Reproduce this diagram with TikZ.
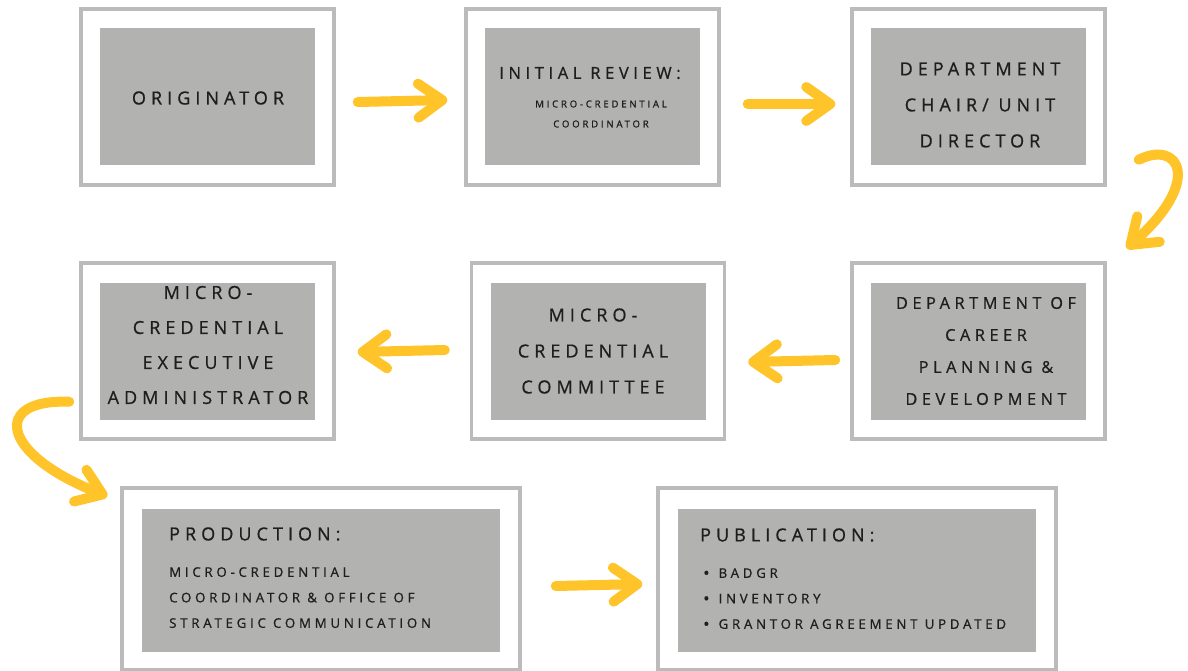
\documentclass[tikz,border=0pt]{standalone}
\usepackage{fontspec}
\usetikzlibrary{arrows.meta,positioning}
\newfontfamily\stepfont[LetterSpace=28, FakeBold=0.8]{Open Sans}
\newcommand\dotitem{{\fontsize{17}{17}\selectfont\raisebox{-1.2pt}{•}}\hspace{9pt}}
\definecolor{edgegray}{HTML}{BBBBBB}
\definecolor{boxgray}{HTML}{B2B3B0}
\definecolor{ink}{HTML}{1E1E1E}
\definecolor{brushyellow}{HTML}{FFC42A}
\tikzset{
  outer/.style={draw=edgegray, line width=3.5pt, fill=white, minimum width=253pt, minimum height=176pt},
  wide/.style={minimum width=398pt, minimum height=182pt},
  inner/.style={fill=boxgray, minimum width=215pt, minimum height=137pt},
  widein/.style={minimum width=358pt, minimum height=143pt},
  txt/.style={text=ink, align=center, inner sep=0pt, font=\stepfont\fontsize{18}{36}\selectfont},
  smalltxt/.style={text=ink, align=left, inner sep=0pt, font=\stepfont\fontsize{13.3}{25.5}\selectfont},
  tinytxt/.style={text=ink, align=center, inner sep=0pt, font=\stepfont\fontsize{9.7}{20}\selectfont},
  brush/.style={draw=brushyellow, line width=10pt, line cap=round, line join=round,
    -{Straight Barb[length=24pt, width=34pt, line width=10pt, round]}}
}
\begin{document}
\begin{tikzpicture}[x=1pt, y=-1pt]
  \useasboundingbox[fill=white] (0,0) rectangle (1188,671);
  \node[outer] (o1) at (207.5,97) {};
  \node[outer] (o2) at (592.5,97) {};
  \node[outer] (o3) at (978.5,97) {};
  \node[outer] (o4) at (207.5,351) {};
  \node[outer] (o5) at (598,351) {};
  \node[outer] (o6) at (978.5,351) {};
  \node[outer, wide] (o7) at (321,579) {};
  \node[outer, wide] (o8) at (857,579) {};
  \foreach \n in {1,...,6} \node[inner] (i\n) at (o\n) {};
  \node[inner, widein] (i7) at (321,580.5) {};
  \node[inner, widein] (i8) at (857,580.5) {};

  \node[txt] (t1) at (208,98) {ORIGINATOR};
  \node[txt, font=\stepfont\fontsize{16.5}{36}\selectfont] (t2) at (590,73) {INITIAL REVIEW:};
  \node[tinytxt] (s2) at (601,114) {MICRO-CREDENTIAL\\COORDINATOR};
  \node[txt] (t3) at (980,105) {DEPARTMENT\\CHAIR/ UNIT\\DIRECTOR};
  \node[txt, font=\stepfont\fontsize{18}{35}\selectfont] (t4) at (208,345) {MICRO-\\CREDENTIAL\\EXECUTIVE\\ADMINISTRATOR};
  \node[txt] (t5) at (593,351) {MICRO-\\CREDENTIAL\\COMMITTEE};
  \node[txt, font=\stepfont\fontsize{16.3}{32}\selectfont] (t6) at (986,351) {DEPARTMENT OF\\CAREER\\PLANNING \&\\DEVELOPMENT};
  \node[txt, anchor=west] (t7) at (169,534) {PRODUCTION:};
  \node[smalltxt, anchor=north west] (s7) at (169,567) {MICRO-CREDENTIAL\\COORDINATOR \& OFFICE OF\\STRATEGIC COMMUNICATION};
  \node[txt, anchor=west] (t8) at (700,535) {PUBLICATION:};
  \node[smalltxt, anchor=north west] (s8) at (703,568) {\dotitem BADGR\\\dotitem INVENTORY\\\dotitem GRANTOR AGREEMENT UPDATED};

  \draw[brush] ([xshift=22pt,yshift=-5pt]o1.east) -- ([xshift=-17pt,yshift=-3pt]o2.west);
  \draw[brush] ([xshift=27pt,yshift=-7pt]o2.east) -- ([xshift=-15pt,yshift=-7pt]o3.west);
  \draw[brush] ([xshift=32pt,yshift=27pt]o3.south east) .. controls +(40,-20) and +(77,-68) .. ([xshift=20pt,yshift=13pt]o6.north east);
  \draw[brush] ([xshift=-15pt,yshift=-9pt]o6.west) -- ([xshift=22pt,yshift=-11pt]o5.east);
  \draw[brush] ([xshift=-25pt,yshift=1pt]o5.west) -- ([xshift=22pt,yshift=-1pt]o4.east);
  \draw[brush] ([xshift=-10pt,yshift=39pt]o4.south west) .. controls +(-78,-3) and +(-107,-42) .. ([xshift=-13pt,yshift=-10pt]o7.north west);
  \draw[brush] ([xshift=34pt,yshift=-7pt]o7.east) -- ([xshift=-14pt,yshift=-5pt]o8.west);
\end{tikzpicture}
\end{document}
